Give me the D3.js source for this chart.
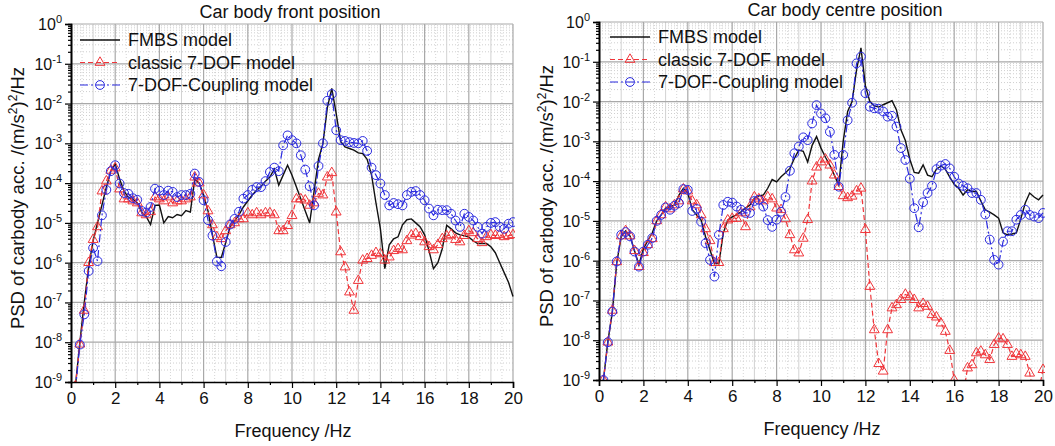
<!DOCTYPE html>
<html lang="en">
<head>
<meta charset="UTF-8">
<title>PSD of carbody acceleration</title>
<script src="https://d3js.org/d3.v7.min.js"></script>
<style>
  body { margin: 0; background: #fff; }
  svg { display: block; font-family: "Liberation Sans", Arial, sans-serif; }
</style>
</head>
<body>
<svg width="1055" height="446"></svg>
<script>
// frequency grid, Hz
const freq = [0.2, 0.4, 0.6, 0.8, 1.0, 1.2, 1.4, 1.6, 1.8, 2.0,
  2.2, 2.4, 2.6, 2.8, 3.0, 3.2, 3.4, 3.6, 3.8, 4.0,
  4.2, 4.4, 4.6, 4.8, 5.0, 5.2, 5.4, 5.6, 5.8, 6.0,
  6.2, 6.4, 6.6, 6.8, 7.0, 7.2, 7.4, 7.6, 7.8, 8.0,
  8.2, 8.4, 8.6, 8.8, 9.0, 9.2, 9.4, 9.6, 9.8, 10.0,
  10.2, 10.4, 10.6, 10.8, 11.0, 11.2, 11.4, 11.6, 11.8, 12.0,
  12.2, 12.4, 12.6, 12.8, 13.0, 13.2, 13.4, 13.6, 13.8, 14.0,
  14.2, 14.4, 14.6, 14.8, 15.0, 15.2, 15.4, 15.6, 15.8, 16.0,
  16.2, 16.4, 16.6, 16.8, 17.0, 17.2, 17.4, 17.6, 17.8, 18.0,
  18.2, 18.4, 18.6, 18.8, 19.0, 19.2, 19.4, 19.6, 19.8, 20.0];

// PSD values stored as log10 of (m/s^2)^2/Hz
const frontFmbs = [-9.1, -8.0, -7.0, -6.1, -5.45, -5.0, -4.55, -4.1, -3.7, -3.52,
  -3.9, -4.2, -4.36, -4.4, -4.5, -4.73, -4.84, -5.04, -4.56, -4.55,
  -5.0, -4.84, -4.87, -4.79, -4.82, -4.69, -4.73, -3.9, -4.0, -4.3,
  -4.7, -5.3, -5.86, -5.87, -5.5, -5.1, -4.95, -4.8, -4.6, -4.45,
  -4.3, -4.18, -4.08, -3.95, -3.85, -3.65, -4.05, -3.8, -3.55, -3.8,
  -4.1, -4.4, -4.7, -5.0, -4.2, -3.4, -3.0, -2.1, -1.62, -2.25,
  -2.95, -3.09, -3.13, -3.17, -3.24, -3.26, -3.4, -3.8, -4.5, -5.15,
  -6.15, -5.55, -5.4, -5.35, -5.05, -4.92, -4.9, -5.0, -5.1, -5.3,
  -5.7, -6.15, -6.0, -5.65, -5.06, -5.15, -5.25, -5.3, -5.32, -5.36,
  -5.45, -5.52, -5.52, -5.52, -5.6, -5.75, -6.0, -6.25, -6.5, -6.85];

const frontClassic = [-9.1, -8.05, -7.2, -6.0, -5.42, -5.1, -4.2, -3.95, -3.68, -3.62,
  -4.15, -4.4, -4.4, -4.45, -4.5, -4.75, -4.8, -4.72, -4.35, -4.4,
  -4.45, -4.35, -4.5, -4.45, -4.45, -4.4, -4.35, -3.85, -4.0, -4.3,
  -4.7, -5.05, -5.35, -5.4, -5.2, -5.05, -5.0, -4.9, -4.9, -4.75,
  -4.8, -4.75, -4.8, -4.75, -4.75, -4.8, -5.2, -5.2, -5.07, -4.82,
  -4.4, -4.4, -4.43, -4.56, -4.5, -4.26, -4.3, -3.85, -3.74, -4.73,
  -5.73, -6.11, -6.74, -7.2, -6.45, -5.94, -5.9, -5.82, -5.75, -5.78,
  -5.94, -5.86, -5.7, -5.65, -5.68, -5.45, -5.31, -5.27, -5.35, -5.48,
  -5.6, -5.68, -5.55, -5.4, -5.33, -5.3, -5.42, -5.48, -5.32, -5.2,
  -5.25, -5.4, -5.5, -5.35, -5.3, -5.32, -5.3, -5.35, -5.32, -5.3];

const frontCoupling = [-9.2, -8.06, -7.3, -6.21, -5.63, -5.96, -4.81, -4.17, -3.7, -3.55,
  -4.01, -4.25, -4.27, -4.38, -4.42, -4.7, -4.74, -4.6, -4.14, -4.19,
  -4.3, -4.19, -4.22, -4.35, -4.3, -4.3, -4.27, -3.76, -3.97, -4.43,
  -4.93, -5.32, -5.97, -6.09, -5.48, -5.04, -4.9, -4.72, -4.39, -4.3,
  -4.17, -4.1, -4.1, -3.95, -3.72, -3.61, -3.7, -3.05, -2.8, -2.92,
  -3.0, -3.3, -3.66, -4.08, -4.56, -3.57, -3.0, -1.93, -1.76, -2.67,
  -2.92, -2.94, -2.97, -2.99, -3.0, -2.94, -3.19, -3.61, -3.8, -4.01,
  -4.3, -4.56, -4.5, -4.53, -4.56, -4.3, -4.22, -4.2, -4.3, -4.43,
  -4.64, -4.81, -4.67, -4.68, -4.68, -4.77, -4.94, -5.1, -4.77, -4.85,
  -4.94, -5.1, -5.27, -5.1, -5.0, -4.98, -5.1, -5.15, -5.02, -4.98];

const centreFmbs = [-9.0, -8.03, -7.3, -6.05, -5.4, -5.25, -5.38, -5.75, -6.1, -5.7,
  -5.5, -5.3, -5.0, -4.85, -4.68, -4.64, -4.6, -4.35, -4.18, -4.3,
  -4.72, -4.85, -4.98, -5.4, -5.73, -6.07, -6.07, -5.3, -4.98, -4.9,
  -4.85, -4.77, -4.68, -4.6, -4.43, -4.37, -4.35, -4.18, -3.96, -4.02,
  -3.89, -3.79, -3.68, -3.43, -3.22, -3.25, -3.52, -3.1, -2.88, -3.17,
  -3.4, -3.6, -3.85, -4.1, -3.0, -2.25, -2.0, -1.21, -0.65, -1.6,
  -2.0, -2.11, -2.14, -2.08, -2.03, -1.98, -2.21, -2.71, -2.98, -3.45,
  -3.78, -3.8, -3.59, -3.85, -3.89, -3.7, -3.62, -3.7, -3.9, -4.08,
  -4.18, -4.35, -4.22, -4.26, -4.26, -4.5, -4.72, -4.78, -4.85, -4.93,
  -5.3, -5.35, -5.33, -5.3, -4.95, -4.55, -4.3, -4.4, -4.47, -4.35];

const centreClassic = [-9.0, -8.05, -7.25, -6.03, -5.38, -5.25, -5.38, -5.75, -6.15, -5.8,
  -5.6, -5.45, -5.0, -4.85, -4.65, -4.7, -4.6, -4.5, -4.2, -4.25,
  -4.5, -4.6, -4.85, -5.2, -5.5, -6.05, -6.05, -5.2, -4.98, -4.94,
  -4.94, -4.8, -5.15, -4.65, -4.4, -4.45, -4.5, -4.4, -4.45, -4.68,
  -4.72, -4.95, -5.35, -5.73, -5.81, -5.44, -4.97, -4.0, -3.65, -3.52,
  -3.45, -3.6, -3.85, -4.14, -4.37, -4.42, -4.38, -4.25, -4.18, -5.22,
  -6.65, -7.74, -8.59, -8.78, -7.74, -7.19, -7.11, -6.98, -6.85, -6.9,
  -6.98, -7.19, -7.08, -7.15, -7.36, -7.42, -7.57, -7.78, -8.26, -9.0,
  -9.6, -9.4, -8.7, -8.62, -8.32, -8.28, -8.37, -8.49, -8.11, -7.95,
  -7.97, -8.11, -8.41, -8.34, -8.37, -8.41, -8.83, -9.5, -9.3, -8.74];

const centreCoupling = [-9.0, -8.05, -7.28, -6.02, -5.35, -5.28, -5.39, -5.77, -6.15, -5.77,
  -5.6, -5.43, -5.0, -4.85, -4.66, -4.72, -4.62, -4.55, -4.2, -4.22,
  -4.75, -4.7, -5.02, -5.56, -5.98, -6.4, -5.35, -4.6, -4.52, -4.54,
  -4.64, -4.72, -4.8, -4.8, -4.5, -4.47, -4.64, -4.98, -5.15, -4.97,
  -4.77, -4.4, -3.74, -3.3, -3.13, -2.9, -2.97, -2.55, -2.09, -2.3,
  -2.42, -2.76, -3.34, -4.14, -3.34, -2.47, -2.03, -1.04, -0.87, -1.79,
  -2.13, -2.17, -2.18, -2.25, -2.38, -2.36, -2.63, -3.17, -3.47, -3.94,
  -4.68, -5.16, -4.53, -4.3, -4.12, -3.7, -3.61, -3.57, -3.68, -3.89,
  -4.06, -4.12, -4.18, -4.3, -4.3, -4.47, -4.84, -5.47, -5.98, -6.1,
  -5.52, -5.26, -5.26, -4.97, -4.85, -4.72, -4.85, -4.89, -4.93, -4.8];

const decades = [-9, -8, -7, -6, -5, -4, -3, -2, -1, 0];
const xTicks = [0, 2, 4, 6, 8, 10, 12, 14, 16, 18, 20];
const xMinor = [1, 3, 5, 7, 9, 11, 13, 15, 17, 19];
const seriesNames = ['FMBS model', 'classic 7-DOF model', '7-DOF-Coupling model'];

const styles = [
  { color: '#111', dash: null, width: 1.4, marker: null },
  { color: '#f0353a', dash: '5,3', width: 1.2, marker: 'triangle' },
  { color: '#2b2be0', dash: '8,3,2,3', width: 1.2, marker: 'circle' }
];

const panels = [
  { id: 'front', title: 'Car body front position', series: [frontFmbs, frontClassic, frontCoupling],
    x0: 71, x1: 513, y0: 382, y1: 24, titleX: 290, titleY: 18, legX: 80, legY: 40, yLabX: 24, xLabX: 293 },
  { id: 'centre', title: 'Car body centre position', series: [centreFmbs, centreClassic, centreCoupling],
    x0: 599, x1: 1043, y0: 380, y1: 22, titleX: 845, titleY: 16, legX: 610, legY: 37, yLabX: 553, xLabX: 822 }
];

const svg = d3.select('svg');
const triangle = d3.symbol().type(d3.symbolTriangle).size(42);

function drawMarker(sel, kind, color) {
  if (kind === 'triangle') {
    sel.append('path').attr('d', triangle)
      .attr('fill', 'none').attr('stroke', color).attr('stroke-width', 1);
  } else if (kind === 'circle') {
    sel.append('circle').attr('r', 4.4)
      .attr('fill', 'none').attr('stroke', color).attr('stroke-width', 1);
  }
}

panels.forEach(p => {
  const x = d3.scaleLinear().domain([0, 20]).range([p.x0, p.x1]);
  const y = d3.scaleLog().domain([1e-9, 1]).range([p.y0, p.y1]);
  const g = svg.append('g');

  // minor log grid (dotted)
  const minors = [];
  decades.slice(0, -1).forEach(d => {
    for (let k = 2; k <= 9; k++) minors.push(k * Math.pow(10, d));
  });
  g.selectAll('.hminor').data(minors).join('line')
    .attr('x1', p.x0).attr('x2', p.x1)
    .attr('y1', d => y(d)).attr('y2', d => y(d))
    .attr('stroke', '#cfcfcf').attr('stroke-width', 1).attr('stroke-dasharray', '1,2');

  const halfSteps = d3.range(0.5, 20, 1);
  g.selectAll('.vdot').data(halfSteps).join('line')
    .attr('x1', d => x(d)).attr('x2', d => x(d))
    .attr('y1', p.y1).attr('y2', p.y0)
    .attr('stroke', '#d6d6d6').attr('stroke-width', 1).attr('stroke-dasharray', '1,2');

  g.selectAll('.vminor').data(xMinor).join('line')
    .attr('x1', d => x(d)).attr('x2', d => x(d))
    .attr('y1', p.y1).attr('y2', p.y0)
    .attr('stroke', '#d2d2d2').attr('stroke-width', 1);

  // major grid
  g.selectAll('.hmajor').data(decades.slice(1)).join('line')
    .attr('x1', p.x0).attr('x2', p.x1)
    .attr('y1', d => y(Math.pow(10, d))).attr('y2', d => y(Math.pow(10, d)))
    .attr('stroke', '#a9a9a9').attr('stroke-width', 1.2);
  g.selectAll('.vmajor').data(xTicks.slice(1)).join('line')
    .attr('x1', d => x(d)).attr('x2', d => x(d))
    .attr('y1', p.y1).attr('y2', p.y0)
    .attr('stroke', '#a9a9a9').attr('stroke-width', 1.2);

  // series, clipped to the plot area
  const clipId = 'clip-' + p.id;
  svg.append('clipPath').attr('id', clipId).append('rect')
    .attr('x', p.x0).attr('y', p.y1 - 6).attr('width', p.x1 - p.x0 + 2).attr('height', p.y0 - p.y1 + 6);
  const plot = g.append('g').attr('clip-path', `url(#${clipId})`);

  p.series.forEach((vals, i) => {
    const s = styles[i];
    const pts = freq.map((f, j) => [f, Math.pow(10, vals[j])]);
    const line = d3.line().x(d => x(d[0])).y(d => y(d[1]));
    plot.append('path').datum(pts)
      .attr('d', line)
      .attr('fill', 'none')
      .attr('stroke', s.color)
      .attr('stroke-width', s.width)
      .attr('stroke-dasharray', s.dash);
    if (s.marker) {
      plot.append('g').selectAll('g').data(pts).join('g')
        .attr('transform', d => `translate(${x(d[0])},${y(d[1])})`)
        .each(function () { drawMarker(d3.select(this), s.marker, s.color); });
    }
  });

  // axes
  const xAxis = g.append('g').attr('transform', `translate(0,${p.y0})`)
    .call(d3.axisBottom(x).tickValues(xTicks).tickSize(6).tickFormat(d3.format('d')));
  xAxis.append('g').call(d3.axisBottom(x).tickValues(xMinor).tickSize(3).tickFormat(''));
  xAxis.selectAll('.domain').attr('stroke', '#000').attr('stroke-width', 1.6);
  xAxis.selectAll('.tick line').attr('stroke', '#000').attr('stroke-width', 1.2);
  xAxis.selectAll('.tick text').attr('font-size', 17).attr('font-family', '"Liberation Sans", Arial, sans-serif')
    .attr('fill', '#111').attr('y', 10);
  xAxis.selectAll('path.domain').filter((d, i) => i > 0).remove();

  const yAxis = g.append('g').attr('transform', `translate(${p.x0},0)`)
    .call(d3.axisLeft(y).tickValues(decades.map(d => Math.pow(10, d))).tickSize(6).tickFormat(''));
  yAxis.append('g').call(d3.axisLeft(y).tickValues(minors).tickSize(3).tickFormat(''));
  yAxis.selectAll('.domain').attr('stroke', '#000').attr('stroke-width', 1.6);
  yAxis.selectAll('.tick line').attr('stroke', '#000').attr('stroke-width', 1.2);

  // decade labels as 10^n
  decades.forEach(d => {
    const t = g.append('text')
      .attr('x', p.x0 - 9).attr('y', y(Math.pow(10, d)) + 6)
      .attr('text-anchor', 'end').attr('font-size', 16).attr('fill', '#111');
    t.append('tspan').text('10');
    t.append('tspan').attr('dy', -7).attr('font-size', 11).text(d);
  });

  // titles
  g.append('text').attr('x', p.titleX).attr('y', p.titleY)
    .attr('text-anchor', 'middle').attr('font-size', 18).attr('fill', '#111').text(p.title);

  g.append('text').attr('x', p.xLabX).attr('y', p.y0 + 55)
    .attr('text-anchor', 'middle').attr('font-size', 18).attr('fill', '#111').text('Frequency /Hz');

  const yl = g.append('text')
    .attr('transform', `translate(${p.yLabX},${(p.y0 + p.y1) / 2 - 5}) rotate(-90)`)
    .attr('text-anchor', 'middle').attr('font-size', 18.5).attr('fill', '#111');
  yl.append('tspan').text('PSD of carbody acc. /(m/s');
  yl.append('tspan').attr('dy', -7).attr('font-size', 12).text('2');
  yl.append('tspan').attr('dy', 7).text(')');
  yl.append('tspan').attr('dy', -7).attr('font-size', 12).text('2');
  yl.append('tspan').attr('dy', 7).text('/Hz');

  // legend
  seriesNames.forEach((name, i) => {
    const s = styles[i];
    const ly = p.legY + i * 22.5;
    g.append('line')
      .attr('x1', p.legX).attr('x2', p.legX + 40).attr('y1', ly).attr('y2', ly)
      .attr('stroke', s.color).attr('stroke-width', s.width).attr('stroke-dasharray', s.dash);
    if (s.marker) {
      const m = g.append('g').attr('transform', `translate(${p.legX + 20},${ly})`);
      drawMarker(m, s.marker, s.color);
    }
    g.append('text').attr('x', p.legX + 48).attr('y', ly + 6)
      .attr('font-size', 18).attr('fill', '#111').text(name);
  });
});
</script>
</body>
</html>
